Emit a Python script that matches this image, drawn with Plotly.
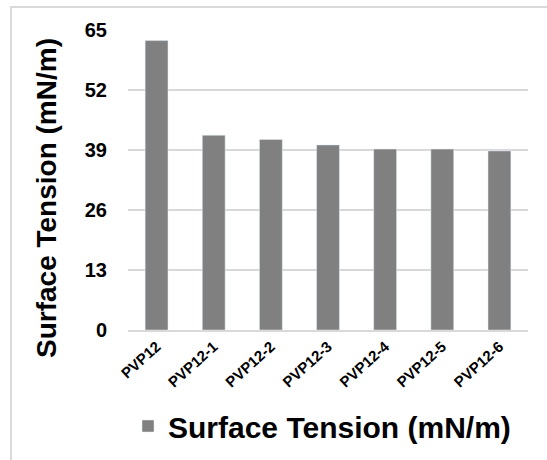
import plotly.graph_objects as go

categories = ["PVP12", "PVP12-1", "PVP12-2", "PVP12-3", "PVP12-4", "PVP12-5", "PVP12-6"]
surface_tension = [62.7, 42.2, 41.3, 40.1, 39.2, 39.2, 38.8]
y_ticks = [0, 13, 26, 39, 52, 65]
series_name = "Surface Tension (mN/m)"
y_title = "Surface Tension (mN/m)"

FONT = "Liberation Sans, Arial, sans-serif"

fig = go.Figure()
fig.add_trace(go.Bar(
    x=categories, y=surface_tension, name=series_name,
    marker=dict(color="#808080"),
    showlegend=True,
))

L, R, T, B = 128, 19, 30, 130
W, H = 547, 460
pw, ph = W - L - R, H - T - B

def px_x(p):
    return (p - L) / pw

def px_y(p):
    return (H - B - p) / ph

fig.update_layout(
    width=W, height=H,
    margin=dict(l=L, r=R, t=T, b=B, autoexpand=False),
    paper_bgcolor="white", plot_bgcolor="white",
    bargap=0.6,
    font=dict(family=FONT, color="black"),
    xaxis=dict(
        tickangle=-42, tickfont=dict(size=15, family=FONT, color="black", weight="bold"),
        showgrid=False, showline=True, linecolor="#d9d9d9", linewidth=2,
        ticks="", zeroline=False, automargin=False,
    ),
    yaxis=dict(
        range=[0, 65], tickvals=y_ticks, ticktext=[str(v) for v in y_ticks],
        tickfont=dict(size=20, family=FONT, color="black", weight="bold"),
        ticklabelstandoff=20,
        showgrid=True, gridcolor="#d9d9d9", gridwidth=2,
        zeroline=False, showline=False, ticks="", automargin=False,
    ),
    annotations=[dict(
        text=y_title, textangle=-90, showarrow=False,
        xref="paper", yref="paper", x=px_x(46), y=px_y(198),
        xanchor="center", yanchor="middle",
        font=dict(size=28, family=FONT, color="black", weight="bold"),
    )],
    legend=dict(
        orientation="h", x=px_x(128), xanchor="left", y=px_y(426), yanchor="middle",
        font=dict(size=30, family=FONT, color="black", weight="bold"),
        itemwidth=30,
    ),
    shapes=[dict(
        type="rect", xref="paper", yref="paper",
        x0=px_x(11), x1=px_x(560), y0=px_y(470), y1=px_y(7),
        line=dict(color="#d9d9d9", width=2), fillcolor="rgba(0,0,0,0)", layer="below",
    )],
)

fig.write_html("out.html", config={"displayModeBar": False},
               post_script="document.body.style.margin='0';")
